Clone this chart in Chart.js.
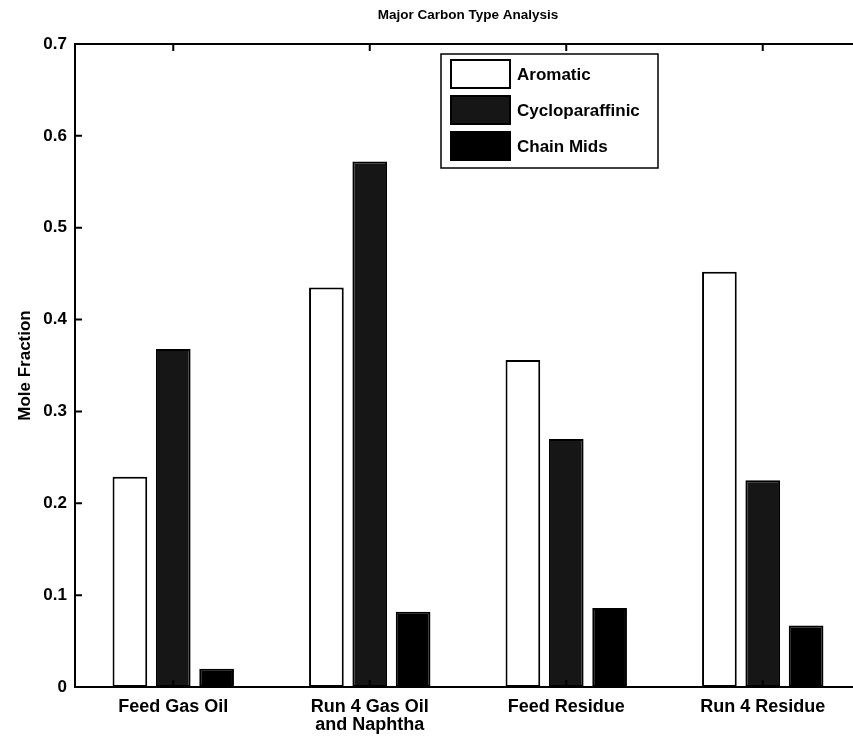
<!DOCTYPE html>
<html lang="en">
<head>
    <meta charset="UTF-8">
    <title>Major Carbon Type Analysis</title>
    <script src="https://cdn.jsdelivr.net/npm/chart.js"></script>
    <style>
        html, body { margin: 0; padding: 0; background: #fff; overflow: hidden; }
        .chart-container { width: 870px; height: 739px; }
    </style>
</head>
<body>
    <div class="chart-container">
        <canvas id="carbonChart" width="870" height="739"></canvas>
    </div>

    <script>
        // Data
        const categories = ['Feed Gas Oil', ['Run 4 Gas Oil', 'and Naphtha'], 'Feed Residue', 'Run 4 Residue'];
        const seriesNames = ['Aromatic', 'Cycloparaffinic', 'Chain Mids'];
        const aromatic = [0.229, 0.435, 0.356, 0.452];
        const cycloparaffinic = [0.368, 0.572, 0.270, 0.225];
        const chainMids = [0.020, 0.082, 0.086, 0.067];
        const yTicks = [0, 0.1, 0.2, 0.3, 0.4, 0.5, 0.6, 0.7];

        const fontFamily = '"Liberation Sans", Arial, Helvetica, sans-serif';
        const colors = ['#ffffff', '#161616', '#000000'];

        // Title, box frame, inward ticks and legend, drawn MATLAB style
        const matlabFrame = {
            id: 'matlabFrame',
            afterDraw(chart) {
                const ctx = chart.ctx;
                const a = chart.chartArea;
                const x = chart.scales.x, y = chart.scales.y;
                ctx.save();

                // title
                ctx.fillStyle = '#000';
                ctx.font = 'bold 13.5px ' + fontFamily;
                ctx.textAlign = 'center';
                ctx.textBaseline = 'middle';
                ctx.fillText('Major Carbon Type Analysis', (a.left + a.right) / 2, 15);

                // box
                ctx.strokeStyle = '#000';
                ctx.lineWidth = 2;
                ctx.strokeRect(a.left, a.top, a.right - a.left, a.bottom - a.top);

                // inward ticks
                ctx.beginPath();
                yTicks.forEach(v => {
                    const py = y.getPixelForValue(v);
                    ctx.moveTo(a.left, py); ctx.lineTo(a.left + 7, py);
                    ctx.moveTo(a.right, py); ctx.lineTo(a.right - 7, py);
                });
                categories.forEach((c, i) => {
                    const px = x.getPixelForValue(i);
                    ctx.moveTo(px, a.bottom); ctx.lineTo(px, a.bottom - 7);
                    ctx.moveTo(px, a.top); ctx.lineTo(px, a.top + 7);
                });
                ctx.stroke();

                // legend
                const lx = 441, ly = 54;
                ctx.fillStyle = '#fff';
                ctx.fillRect(lx, ly, 217, 114);
                ctx.lineWidth = 1.5;
                ctx.strokeRect(lx, ly, 217, 114);
                ctx.font = 'bold 17px ' + fontFamily;
                ctx.textAlign = 'left';
                chart.data.datasets.forEach((ds, i) => {
                    const sy = ly + 6 + i * 36;
                    ctx.fillStyle = ds.backgroundColor;
                    ctx.fillRect(lx + 10, sy, 59, 28);
                    ctx.lineWidth = 2;
                    ctx.strokeRect(lx + 10, sy, 59, 28);
                    ctx.fillStyle = '#000';
                    ctx.fillText(ds.label, lx + 76, sy + 15);
                });
                ctx.restore();
            }
        };

        const ctxCarbon = document.getElementById('carbonChart').getContext('2d');
        const carbonChart = new Chart(ctxCarbon, {
            type: 'bar',
            data: {
                labels: categories,
                datasets: [aromatic, cycloparaffinic, chainMids].map((vals, i) => ({
                    label: seriesNames[i],
                    data: vals,
                    backgroundColor: colors[i],
                    borderColor: '#000',
                    borderWidth: 2,
                    borderSkipped: false,
                    categoryPercentage: 0.662,
                    barPercentage: 0.8
                }))
            },
            options: {
                responsive: false,
                animation: false,
                layout: { padding: { top: 44, right: 9, left: 0, bottom: 0 } },
                plugins: {
                    legend: { display: false },
                    title: { display: false },
                    tooltip: { enabled: false }
                },
                scales: {
                    x: {
                        grid: { display: false, drawTicks: false },
                        border: { display: false },
                        ticks: {
                            color: '#000',
                            padding: 11,
                            maxRotation: 0,
                            font: { family: fontFamily, size: 18, weight: 'bold', lineHeight: 1.0 }
                        },
                        afterFit(scale) { scale.height = 52; }
                    },
                    y: {
                        min: 0,
                        max: 0.7,
                        grid: { display: false, drawTicks: false },
                        border: { display: false },
                        afterBuildTicks(scale) { scale.ticks = yTicks.map(v => ({ value: v })); },
                        ticks: {
                            color: '#000',
                            padding: 8,
                            font: { family: fontFamily, size: 17, weight: 'bold' },
                            callback: v => String(Math.round(v * 10) / 10)
                        },
                        title: {
                            display: true,
                            text: 'Mole Fraction',
                            color: '#000',
                            padding: { top: 15, bottom: 0 },
                            font: { family: fontFamily, size: 17, weight: 'bold' }
                        },
                        afterFit(scale) { scale.width = 75; }
                    }
                }
            },
            plugins: [matlabFrame]
        });
    </script>
</body>
</html>
